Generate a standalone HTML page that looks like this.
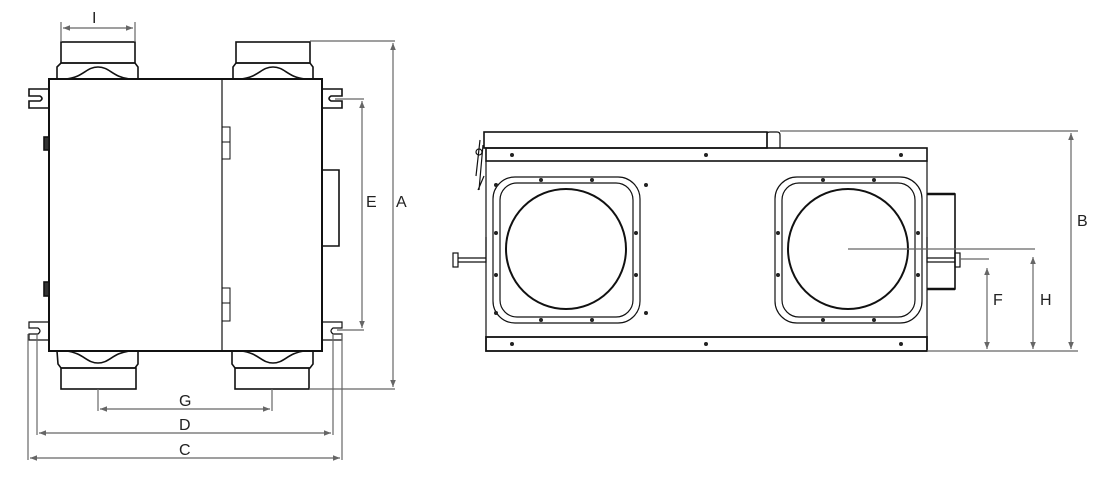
<!DOCTYPE html>
<html><head><meta charset="utf-8"><style>
html,body{margin:0;padding:0;background:#fff;}
svg{display:block;}
text{font-family:"Liberation Sans","DejaVu Sans",sans-serif;font-size:16px;fill:#222;}
</style></head><body>
<svg width="1107" height="480" viewBox="0 0 1107 480" xmlns="http://www.w3.org/2000/svg">
<defs>
<marker id="ar" viewBox="0 0 10 10" refX="10" refY="5" markerWidth="9" markerHeight="7" orient="auto-start-reverse" markerUnits="userSpaceOnUse"><path d="M0,1 L10,5 L0,9 z" fill="#666"/></marker>
</defs>
<g fill="none" stroke="#111" stroke-width="1.6">
<rect x="61" y="42" width="74" height="21"/>
<path d="M61,63 L135,63 L138,67 L138,79 L57,79 L57,67 Z"/>
<path d="M66,79 C84,77 86,67 98,67 C110,67 112,77 130,79"/>
<rect x="236" y="42" width="74" height="21"/>
<path d="M236,63 L310,63 L313,67 L313,79 L233,79 L233,67 Z"/>
<path d="M241,79 C259,77 261,67 273,67 C285,67 287,77 305,79"/>
<rect x="49" y="79" width="273" height="272" stroke-width="2"/>
<line x1="222" y1="79" x2="222" y2="351" stroke-width="1.2"/>
<path d="M49,89 L29,89 L29,96 L40,96 Q44,98.5 40,101 L29,101 L29,108 L49,108" />
<path d="M322,89 L342,89 L342,96 L331,96 Q327,98.5 331,101 L342,101 L342,108 L322,108"/>
<path d="M322,170 L339,170 L339,246 L322,246"/>
<rect x="222" y="127" width="8" height="32" stroke-width="1"/>
<line x1="222" y1="142" x2="230" y2="142" stroke-width="1"/>
<rect x="222" y="288" width="8" height="33" stroke-width="1"/>
<line x1="222" y1="303" x2="230" y2="303" stroke-width="1"/>
<rect x="44" y="137" width="5" height="13" fill="#333"/>
<rect x="44" y="282" width="5" height="14" fill="#333"/>
<path d="M49,322 L29,322 L29,328 L38,328 Q42,331 38,334 L29,334 L29,340 L49,340" stroke-width="1.2"/>
<path d="M322,322 L342,322 L342,328 L333,328 Q329,331 333,334 L342,334 L342,340 L322,340" stroke-width="1.2"/>
<path d="M57,351 L138,351 L138,364 L135,368 L61,368 L58,364 Z"/>
<path d="M66,351 C84,353 86,363 98,363 C110,363 112,353 130,351"/>
<rect x="61" y="368" width="75" height="21"/>
<path d="M232,351 L313,351 L313,364 L310,368 L235,368 L232,364 Z"/>
<path d="M241,351 C259,353 261,363 273,363 C285,363 287,353 305,351"/>
<rect x="235" y="368" width="74" height="21"/>
</g>
<g stroke="#666" stroke-width="1.2" fill="none">
<line x1="310" y1="41" x2="395" y2="41"/>
<line x1="309" y1="389" x2="395" y2="389"/>
<line x1="393" y1="43" x2="393" y2="387" marker-start="url(#ar)" marker-end="url(#ar)"/>
<line x1="335" y1="99" x2="364" y2="99"/>
<line x1="337" y1="330" x2="364" y2="330"/>
<line x1="362" y1="101" x2="362" y2="328" marker-start="url(#ar)" marker-end="url(#ar)"/>
<line x1="61" y1="22" x2="61" y2="42"/>
<line x1="135" y1="22" x2="135" y2="42"/>
<line x1="63" y1="28" x2="133" y2="28" marker-start="url(#ar)" marker-end="url(#ar)"/>
<line x1="98" y1="389" x2="98" y2="411"/>
<line x1="272" y1="389" x2="272" y2="411"/>
<line x1="100" y1="409" x2="270" y2="409" marker-start="url(#ar)" marker-end="url(#ar)"/>
<line x1="37" y1="334" x2="37" y2="435"/>
<line x1="333" y1="334" x2="333" y2="435"/>
<line x1="39" y1="433" x2="331" y2="433" marker-start="url(#ar)" marker-end="url(#ar)"/>
<line x1="28" y1="334" x2="28" y2="460"/>
<line x1="342" y1="334" x2="342" y2="460"/>
<line x1="30" y1="458" x2="340" y2="458" marker-start="url(#ar)" marker-end="url(#ar)"/>
</g>
<text x="92" y="23">I</text>
<text x="366" y="207">E</text>
<text x="396" y="207">A</text>
<text x="179" y="406">G</text>
<text x="179" y="430">D</text>
<text x="179" y="455">C</text>

<g fill="none" stroke="#111" stroke-width="1.6">
<rect x="484" y="132" width="283" height="16"/>
<path d="M767,148 L767,134 Q767,132 770,132 L777,132 Q780,132 780,135 L780,148" stroke-width="1.2"/>
<rect x="486" y="148" width="441" height="13"/>
<line x1="486" y1="161" x2="486" y2="337" stroke-width="1.2"/>
<line x1="927" y1="161" x2="927" y2="337" stroke-width="1.2"/>
<rect x="486" y="337" width="441" height="14" stroke-width="1.8"/>
<rect x="493" y="177" width="147" height="146" rx="22" stroke-width="1.2"/>
<rect x="500" y="183" width="133" height="134" rx="17" stroke-width="1.2"/>
<ellipse cx="566" cy="249" rx="60" ry="60" stroke-width="2"/>
<rect x="775" y="177" width="147" height="146" rx="22" stroke-width="1.2"/>
<rect x="782" y="183" width="133" height="134" rx="17" stroke-width="1.2"/>
<ellipse cx="848" cy="249" rx="60" ry="60" stroke-width="2"/>
<path d="M927,194 L955,194 L955,289 L927,289"/>
<line x1="927" y1="194" x2="955" y2="194" stroke-width="2.5"/>
<line x1="927" y1="289" x2="955" y2="289" stroke-width="2.5"/>
<path d="M480,140 L476,176 M483,145 L479,190 M478,190 L484,176" stroke-width="1.2"/>
<circle cx="479" cy="152" r="3" stroke-width="1.2"/>
<path d="M486,237 L486,262 L458,262 M486,258 L458,258" stroke-width="1.2"/>
<rect x="453" y="253" width="5" height="14" stroke-width="1.2"/>
<path d="M927,237 L927,262 L955,262 M927,258 L955,258" stroke-width="1.2"/>
<rect x="955" y="253" width="5" height="14" stroke-width="1.2"/>
</g>
<g fill="#222">
<circle cx="512" cy="155" r="2"/><circle cx="706" cy="155" r="2"/><circle cx="901" cy="155" r="2"/>
<circle cx="512" cy="344" r="2"/><circle cx="706" cy="344" r="2"/><circle cx="901" cy="344" r="2"/>
<circle cx="541" cy="180" r="2"/><circle cx="592" cy="180" r="2"/><circle cx="541" cy="320" r="2"/><circle cx="592" cy="320" r="2"/>
<circle cx="496" cy="233" r="2"/><circle cx="496" cy="275" r="2"/><circle cx="636" cy="233" r="2"/><circle cx="636" cy="275" r="2"/>
<circle cx="496" cy="185" r="2"/><circle cx="496" cy="313" r="2"/><circle cx="646" cy="185" r="2"/><circle cx="646" cy="313" r="2"/>
<circle cx="823" cy="180" r="2"/><circle cx="874" cy="180" r="2"/><circle cx="823" cy="320" r="2"/><circle cx="874" cy="320" r="2"/>
<circle cx="778" cy="233" r="2"/><circle cx="778" cy="275" r="2"/><circle cx="918" cy="233" r="2"/><circle cx="918" cy="275" r="2"/>
</g>
<g stroke="#666" stroke-width="1.2" fill="none">
<line x1="780" y1="131" x2="1078" y2="131"/>
<line x1="927" y1="351" x2="1078" y2="351"/>
<line x1="1071" y1="133" x2="1071" y2="349" marker-start="url(#ar)" marker-end="url(#ar)"/>
<line x1="848" y1="249" x2="1035" y2="249"/>
<line x1="1033" y1="257" x2="1033" y2="349" marker-start="url(#ar)" marker-end="url(#ar)"/>
<line x1="960" y1="259" x2="989" y2="259"/>
<line x1="987" y1="268" x2="987" y2="349" marker-start="url(#ar)" marker-end="url(#ar)"/>
</g>
<text x="993" y="305">F</text>
<text x="1040" y="305">H</text>
<text x="1077" y="226">B</text>
</svg>
</body></html>
